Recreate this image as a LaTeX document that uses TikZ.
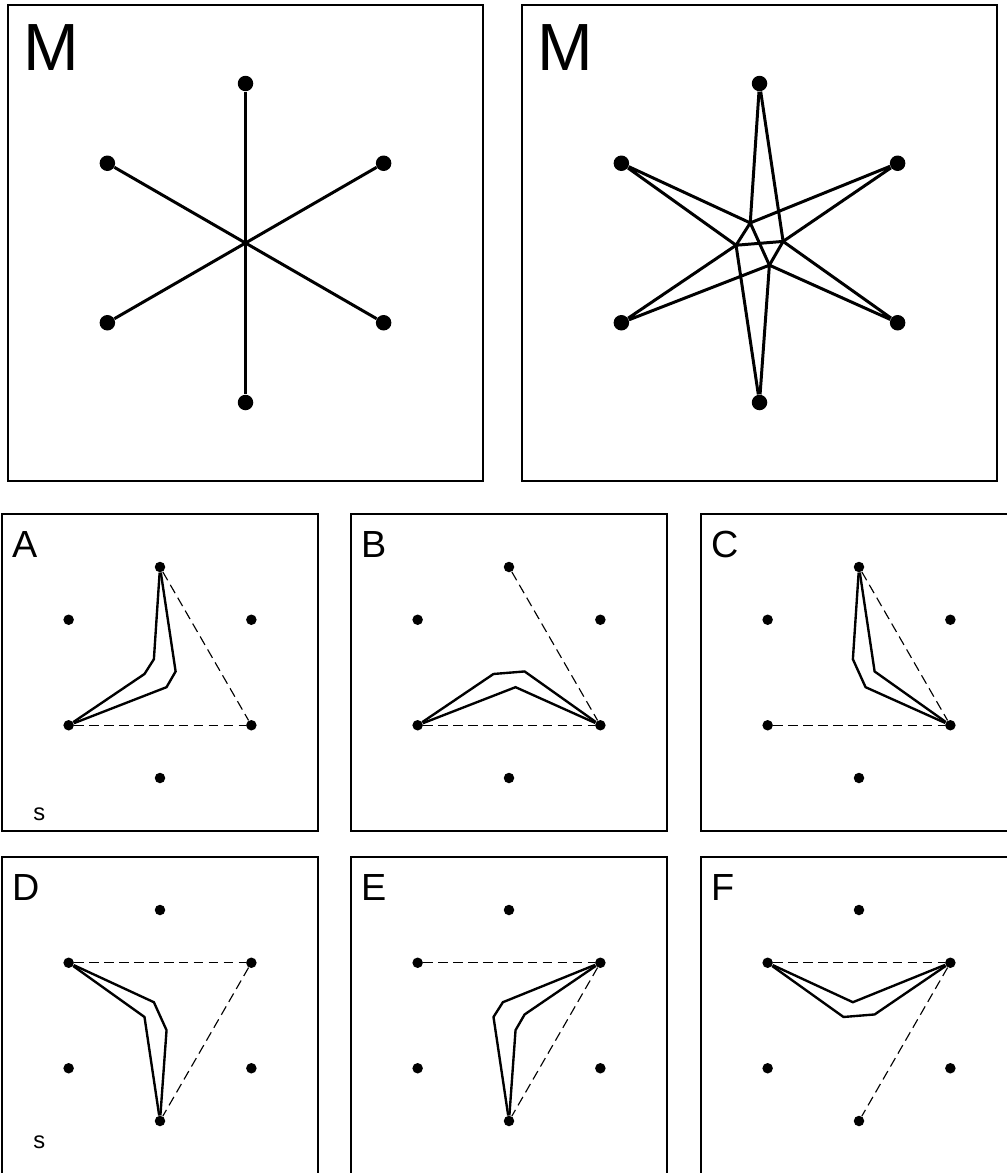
\documentclass[tikz,border=0pt]{standalone}
\usepackage{fontspec}
\setmainfont{Liberation Sans}

\newcommand{\hexpts}[5]{%
  \begin{scope}[shift={(#2,#3)}, yscale=-1, scale=#4]
    \foreach \n/\a in {t/90, ur/30, lr/-30, b/-90, ll/-150, ul/150}
      \node[#5] (#1\n) at (\a:1) {};
    \coordinate (#1i1) at (-0.058, 0.126);
    \coordinate (#1i2) at (-0.147,-0.014);
    \coordinate (#1i3) at ( 0.148, 0.010);
    \coordinate (#1i4) at ( 0.062,-0.139);
  \end{scope}}

\begin{document}
\begin{tikzpicture}[x=0.02cm, y=-0.02cm,
  frame/.style={draw, line width=1.1pt},
  bigdot/.style={circle, fill, inner sep=0pt, minimum size=0.31cm},
  smalldot/.style={circle, fill, inner sep=0pt, minimum size=0.21cm},
  spoke/.style={line width=1.7pt},
  trace/.style={line width=1.35pt},
  guide/.style={line width=0.65pt, dash pattern=on 5.5pt off 3pt},
  bigtxt/.style={font=\fontsize{38}{40}\selectfont, inner sep=0pt, anchor=base west},
  lbl/.style={font=\fontsize{21.5}{24}\selectfont, inner sep=0pt, anchor=base west},
  note/.style={font=\fontsize{13.5}{15}\selectfont, inner sep=0pt, anchor=base west}
]
  \useasboundingbox (0,0) rectangle (1007,1173);
  \clip (0,0) rectangle (1007,1173);

  \draw[frame] (8,5) rectangle (483,481);
  \draw[frame] (522,5) rectangle (997,481);
  \foreach \x in {2,351,701} {
    \draw[frame] (\x,514) rectangle +(316,317);
    \draw[frame] (\x,857) rectangle +(316,317);
  }

  \node[bigtxt] (mL) at (23,70) {M};
  \node[bigtxt] (mR) at (537,70) {M};
  \node[lbl] (labA) at (12,557) {A};
  \node[lbl] (labB) at (361,557) {B};
  \node[lbl] (labC) at (711,557) {C};
  \node[lbl] (labD) at (12,900) {D};
  \node[lbl] (labE) at (361,900) {E};
  \node[lbl] (labF) at (711,900) {F};
  \node[note] (sA) at (33,820) {s};
  \node[note] (sD) at (33,1148) {s};

  \hexpts{L}{245.5}{243}{159.5}{bigdot}
  \hexpts{R}{759.5}{243}{159.5}{bigdot}
  \hexpts{A}{160}{672.5}{105.5}{smalldot}
  \hexpts{B}{509}{672.5}{105.5}{smalldot}
  \hexpts{C}{859}{672.5}{105.5}{smalldot}
  \hexpts{D}{160}{1015.5}{105.5}{smalldot}
  \hexpts{E}{509}{1015.5}{105.5}{smalldot}
  \hexpts{F}{859}{1015.5}{105.5}{smalldot}

  % model 1: plain spokes
  \draw[spoke] (Lt) -- (Lb);
  \draw[spoke] (Lul) -- (Llr);
  \draw[spoke] (Lur) -- (Lll);

  % model 2: star
  \draw[spoke] (Rt) -- (Ri1) -- (Rur) -- (Ri3) -- (Rt);
  \draw[spoke] (Rul) -- (Ri1) -- (Ri2) -- (Rul);
  \draw[spoke] (Rll) -- (Ri2) -- (Rb) -- (Ri4) -- (Rll);
  \draw[spoke] (Rlr) -- (Ri3) -- (Ri4) -- (Rlr);
  \draw[spoke] (Ri2) -- (Ri3);
  \draw[spoke] (Ri4) -- (Ri1);

  % choices
  \draw[trace] (At) -- (Ai1) -- (Ai2) -- (All);
  \draw[trace] (At) -- (Ai3) -- (Ai4) -- (All);
  \draw[guide] (At) -- (Alr);
  \draw[guide] (All) -- (Alr);

  \draw[trace] (Bll) -- (Bi2) -- (Bi3) -- (Blr);
  \draw[trace] (Bll) -- (Bi4) -- (Blr);
  \draw[guide] (Bt) -- (Blr);
  \draw[guide] (Bll) -- (Blr);

  \draw[trace] (Ct) -- (Ci1) -- (Ci4) -- (Clr);
  \draw[trace] (Ct) -- (Ci3) -- (Clr);
  \draw[guide] (Ct) -- (Clr);
  \draw[guide] (Cll) -- (Clr);

  \draw[trace] (Dul) -- (Di1) -- (Di4) -- (Db);
  \draw[trace] (Dul) -- (Di2) -- (Db);
  \draw[guide] (Dul) -- (Dur);
  \draw[guide] (Dur) -- (Db);

  \draw[trace] (Eur) -- (Ei1) -- (Ei2) -- (Eb);
  \draw[trace] (Eur) -- (Ei3) -- (Ei4) -- (Eb);
  \draw[guide] (Eul) -- (Eur);
  \draw[guide] (Eur) -- (Eb);

  \draw[trace] (Ful) -- (Fi1) -- (Fur);
  \draw[trace] (Ful) -- (Fi2) -- (Fi3) -- (Fur);
  \draw[guide] (Ful) -- (Fur);
  \draw[guide] (Fur) -- (Fb);
\end{tikzpicture}
\end{document}
